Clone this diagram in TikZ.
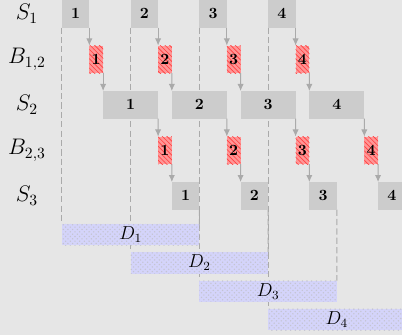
\documentclass[tikz,border=0pt]{standalone}
\usepackage{tikz}
\usetikzlibrary{arrows.meta,patterns,positioning,backgrounds}
\definecolor{bggray}{RGB}{230,230,230}
\definecolor{stagegray}{RGB}{204,204,204}
\definecolor{bufred}{RGB}{255,150,150}
\definecolor{linegray}{RGB}{170,170,170}
\definecolor{lavender}{RGB}{212,212,250}
\definecolor{dotgray}{RGB}{196,196,210}

\begin{document}
\begin{tikzpicture}[x=8.8pt,y=-8.8pt,>={Latex[length=4.5pt,width=4pt]}]
\tikzstyle{cell}=[anchor=north west,inner sep=0pt,outer sep=0pt,minimum height=17.6pt,font=\bfseries]
\tikzstyle{stage}=[cell,fill=stagegray,minimum width=17.6pt]
\tikzstyle{widestage}=[stage,minimum width=35.2pt]
\tikzstyle{buf}=[cell,fill=bufred,postaction={pattern=north west lines,pattern color=red!75},minimum width=8.8pt]
\tikzstyle{lat}=[anchor=north west,inner sep=0pt,outer sep=0pt,minimum height=13.6pt,minimum width=88pt,fill=lavender,postaction={pattern=crosshatch dots,pattern color=dotgray},font=\large]
\tikzstyle{guide}=[linegray,line width=0.6pt,dash pattern=on 4pt off 2pt]
\tikzstyle{flow}=[linegray,line width=0.6pt,->]
\tikzstyle{rowlab}=[font=\Large]
\useasboundingbox (0,0) rectangle (29.24,24.36);
% row labels
\node[rowlab] (ls1) at (1.96,1) {$S_1$};
\node[rowlab] (lb12) at (1.96,4.31) {$B_{1,2}$};
\node[rowlab] (ls2) at (1.96,7.62) {$S_2$};
\node[rowlab] (lb23) at (1.96,10.93) {$B_{2,3}$};
\node[rowlab] (ls3) at (1.96,14.24) {$S_3$};
% pipeline items
\foreach \i in {1,...,4} {
  \pgfmathsetmacro\xo{4.5+5*(\i-1)}
  \node[stage] (sa\i) at (\xo,0) {\i};
  \node[buf] (ba\i) at (\xo+2,3.31) {\i};
  \node[widestage] (sb\i) at (\xo+3,6.62) {\i};
  \node[buf] (bb\i) at (\xo+7,9.93) {\i};
  \node[stage] (sc\i) at (\xo+8,13.24) {\i};
  \node[lat] (d\i) at (\xo,{16.29+2.06*(\i-1)}) {$D_\i$};
  \draw[flow] (sa\i.south east) -- (ba\i.north west);
  \draw[flow] (ba\i.south east) -- (sb\i.north west);
  \draw[flow] (sb\i.south east) -- (bb\i.north west);
  \draw[flow] (bb\i.south east) -- (sc\i.north west);
}
\begin{pgfonlayer}{background}
\fill[bggray] (0,0) rectangle (29.24,24.36);
\foreach \i in {1,...,4} {
  \draw[guide] (sa\i.south west) -- (d\i.north west);
  \draw[guide] (sc\i.south east) -- (d\i.north east);
}
\end{pgfonlayer}
\end{tikzpicture}
\end{document}
